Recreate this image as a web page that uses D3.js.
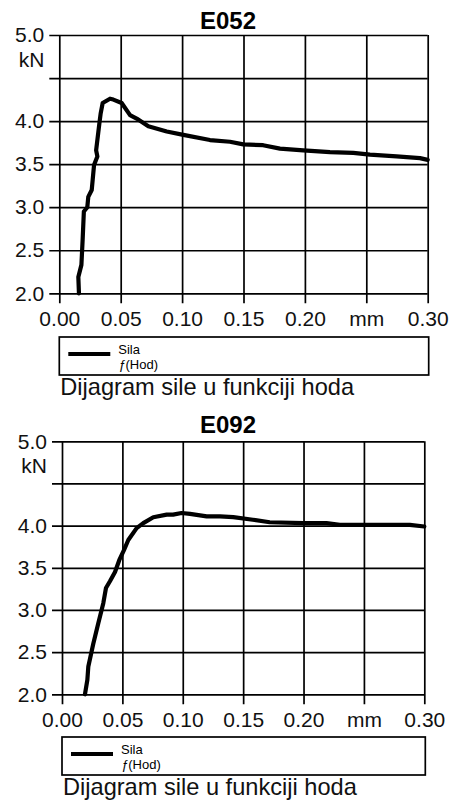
<!DOCTYPE html>
<html>
<head>
<meta charset="utf-8">
<script src="https://cdn.jsdelivr.net/npm/d3@7"></script>
<style>
  body { margin: 0; background: #fff; }
  svg { display: block; font-family: "Liberation Sans", Arial, sans-serif; }
</style>
</head>
<body>
<svg width="455" height="800"></svg>
<script>
// tick values and labels (shared by both diagrams)
var xTicks = [0, 0.05, 0.10, 0.15, 0.20, 0.25, 0.30];
var xTickLabels = ["0.00", "0.05", "0.10", "0.15", "0.20", "mm", "0.30"];
var yTicks = [2.0, 2.5, 3.0, 3.5, 4.0, 4.5, 5.0];
var yTickLabels = ["2.0", "2.5", "3.0", "3.5", "4.0", "", "5.0"];

// E052: Hod (mm) / Sila (kN)
var e052Hod = [0.016, 0.0155, 0.018, 0.019, 0.020, 0.0228, 0.0236, 0.0264, 0.0272, 0.0283,
  0.031, 0.030, 0.0326, 0.0337, 0.0353, 0.0413, 0.044, 0.0508, 0.0576, 0.063,
  0.0725, 0.0875, 0.101, 0.1227, 0.139, 0.1498, 0.166, 0.1797, 0.1987, 0.2204,
  0.2394, 0.253, 0.2747, 0.2937, 0.30];
var e052Sila = [2.0, 2.19, 2.33, 2.62, 2.95, 3.0, 3.12, 3.2, 3.32, 3.49,
  3.59, 3.66, 3.97, 4.09, 4.21, 4.26, 4.25, 4.21, 4.07, 4.03,
  3.94, 3.88, 3.84, 3.78, 3.76, 3.73, 3.72, 3.68, 3.66, 3.64,
  3.63, 3.61, 3.59, 3.57, 3.55];

// E092
var e092Hod = [0.019, 0.021, 0.0218, 0.0259, 0.030, 0.0342, 0.0364, 0.0397, 0.0439, 0.0474,
  0.0513, 0.0549, 0.0618, 0.0673, 0.0756, 0.0867, 0.092, 0.099, 0.106, 0.1198,
  0.1308, 0.1418, 0.158, 0.172, 0.2, 0.219, 0.230, 0.255, 0.288, 0.30];
var e092Sila = [2.0, 2.17, 2.33, 2.60, 2.84, 3.08, 3.26, 3.34, 3.45, 3.59,
  3.71, 3.83, 3.97, 4.03, 4.10, 4.13, 4.13, 4.15, 4.14, 4.11,
  4.11, 4.10, 4.07, 4.04, 4.03, 4.03, 4.01, 4.01, 4.01, 3.99];

var svg = d3.select("svg");

function drawChart(c) {
  var data = c.hod.map(function(h, i) { return [h, c.sila[i]]; });

  var x = d3.scaleLinear().domain([0, 0.30]).range([c.left, c.right]);
  var y = d3.scaleLinear().domain([2.0, 5.0]).range([c.bottom, c.top]);
  var w = c.right - c.left, h = c.bottom - c.top;

  // title
  svg.append("text")
      .attr("x", 228).attr("y", c.titleY)
      .attr("text-anchor", "middle")
      .style("font-size", "24px").style("font-weight", "bold")
      .text(c.title);

  // y axis + horizontal grid
  var gy = svg.append("g")
      .attr("transform", "translate(" + c.left + ",0)")
      .call(d3.axisLeft(y).tickValues(yTicks).tickSize(10).tickPadding(5)
        .tickFormat(function(d, i) { return yTickLabels[i]; }));
  gy.select(".domain").remove();
  gy.selectAll("line").attr("x2", -10).attr("x1", w)
      .attr("stroke", "#000").attr("stroke-width", 1.7);
  gy.selectAll("text").style("font-size", "21px").attr("fill", "#111");

  // x axis + vertical grid
  var gx = svg.append("g")
      .attr("transform", "translate(0," + c.bottom + ")")
      .call(d3.axisBottom(x).tickValues(xTicks).tickSize(10).tickPadding(8)
        .tickFormat(function(d, i) { return xTickLabels[i]; }));
  gx.select(".domain").remove();
  gx.selectAll("line").attr("y1", -h).attr("y2", 10)
      .attr("stroke", "#000").attr("stroke-width", 1.7);
  gx.selectAll("text").style("font-size", "21px").attr("fill", "#111");

  // unit under top label
  svg.append("text")
      .attr("x", c.left - 15).attr("y", c.top + 32)
      .attr("text-anchor", "end")
      .style("font-size", "21px").attr("fill", "#111")
      .text("kN");

  // curve
  svg.append("path")
      .datum(data)
      .attr("fill", "none")
      .attr("stroke", "#000")
      .attr("stroke-width", 4.2)
      .attr("stroke-linejoin", "round")
      .attr("stroke-linecap", "round")
      .attr("d", d3.line().x(function(d) { return x(d[0]); }).y(function(d) { return y(d[1]); }));

  // legend
  var lg = svg.append("g").attr("transform", "translate(" + c.left + "," + c.legendY + ")");
  lg.append("rect")
      .attr("x", 0).attr("y", 0)
      .attr("width", c.right - c.left + 1).attr("height", 38)
      .attr("fill", "#fff").attr("stroke", "#000").attr("stroke-width", 1.7);
  lg.append("line")
      .attr("x1", 9).attr("x2", 51).attr("y1", 17).attr("y2", 17)
      .attr("stroke", "#000").attr("stroke-width", 4);
  lg.append("text").attr("x", 59).attr("y", 17)
      .style("font-size", "13px").text("Sila");
  var t2 = lg.append("text").attr("x", 59).attr("y", 32).style("font-size", "13px");
  t2.append("tspan").style("font-style", "italic").text("ƒ");
  t2.append("tspan").text("(Hod)");

  svg.append("text")
      .attr("x", c.left + 1).attr("y", c.captionY)
      .style("font-size", "23.6px").attr("fill", "#111")
      .text("Dijagram sile u funkciji hoda");
}

drawChart({ title: "E052", hod: e052Hod, sila: e052Sila,
  left: 59.3, right: 427.7, top: 35, bottom: 293.3,
  titleY: 29, legendY: 337, captionY: 395 });

drawChart({ title: "E092", hod: e092Hod, sila: e092Sila,
  left: 62, right: 424.3, top: 441.3, bottom: 694.3,
  titleY: 433, legendY: 737, captionY: 795 });
</script>
</body>
</html>
